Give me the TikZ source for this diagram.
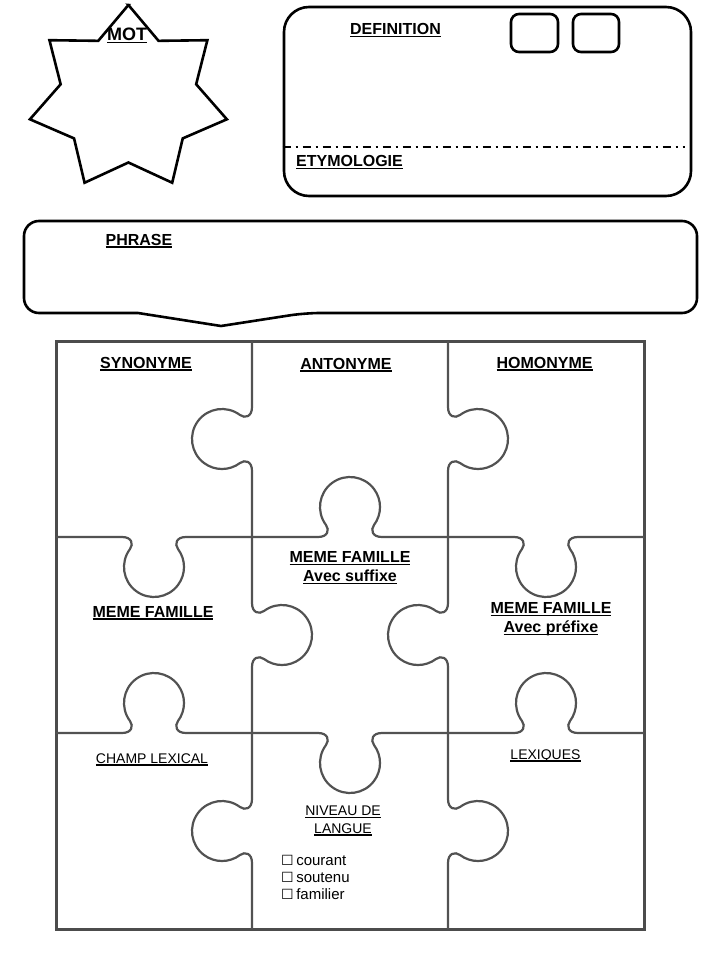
\documentclass[tikz,border=0pt]{standalone}
\usepackage{fontspec}
\setmainfont{Liberation Sans}
\newfontfamily\tickfont{DejaVu Sans}
\usetikzlibrary{positioning}

% underlined label, rule a little below the baseline
\newcommand\ulabel[1]{\setbox0\hbox{#1}\rlap{\rule[-2.5pt]{\wd0}{1.4pt}}\box0}
\newcommand\tickbox{{\tickfont\fontsize{14}{14}\selectfont ☐}}
% one puzzle edge of length #1 with a tab in its middle (local coordinates)
\newcommand\tabpath[1]{(0,0) -- ({#1/2-32},0)
  .. controls ({#1/2-22},0) and ({#1/2-20.4},7.2) .. ({#1/2-24},12)
  arc[start angle=216.87, end angle=-36.87, radius=30]
  .. controls ({#1/2+20.4},7.2) and ({#1/2+22},0) .. ({#1/2+32},0) -- (#1,0)}

\tikzset{
  tab up/.style={x={(1pt,0pt)}, y={(0pt,1pt)}},
  tab down/.style={x={(1pt,0pt)}, y={(0pt,-1pt)}},
  tab left/.style={x={(0pt,-1pt)}, y={(-1pt,0pt)}},
  tab right/.style={x={(0pt,-1pt)}, y={(1pt,0pt)}}
}

\begin{document}
\begin{tikzpicture}[
  x=1pt, y=-1pt,
  outline/.style={draw, line width=2.6pt},
  panel/.style={draw, line width=2.6pt, inner sep=0pt},
  cutline/.style={draw=black!68, line width=2.2pt},
  frame/.style={draw=black!70, line width=3pt},
  title/.style={font=\bfseries\fontsize{16}{19}\selectfont, inner sep=0pt, align=center},
  plain/.style={font=\fontsize{14}{17.5}\selectfont, inner sep=0pt, align=center},
  check/.style={font=\fontsize{15}{17}\selectfont, inner sep=0pt, anchor=base west}
]
\useasboundingbox (0,0) rectangle (720,960);

% word star
\begin{scope}[shift={(128.4,98.5)}]
\draw[outline] (-90:101 and 93.5)
  \foreach \k in {0,...,6} { -- ({-64.29+51.43*\k}:69.5 and 64) -- ({-38.57+51.43*\k}:101 and 93.5) } -- cycle;
\end{scope}
\node[title, font=\bfseries\fontsize{18}{20}\selectfont, anchor=base] (mot) at (127,41) {\ulabel{MOT}};

% definition card
\node[panel, rounded corners=25pt, minimum width=407pt, minimum height=189pt] (def-card) at (487.5,101.5) {};
\node[panel, rounded corners=8pt, minimum width=47pt, minimum height=38pt] (box-a) at (534.5,33) {};
\node[panel, rounded corners=8pt, minimum width=46pt, minimum height=38pt] (box-b) at (596,33) {};
\coordinate (dd-end) at (685,147);
\draw[line width=2pt, dash pattern=on 8pt off 5pt on 2pt off 5pt] (def-card.west |- dd-end) -- (dd-end);
\node[title, anchor=base] (definition) at (395.5,35) {\ulabel{DEFINITION}};
\node[title, anchor=base] (etymology) at (349.5,167) {\ulabel{ETYMOLOGIE}};

% sentence bubble
\coordinate (tip) at (221,326);
\draw[outline] (tip) -- (138,313) [rounded corners=15pt] -- (24,313) -- (24,221) -- (697,221) -- (697,313) -- (305,313) [sharp corners] -- cycle;
\node[title, anchor=base] (phrase) at (139,245) {\ulabel{PHRASE}};

% puzzle
\draw[frame] (56,341) rectangle (644,929);
\foreach \px/\py in {252/341, 252/733, 448/537}
  \draw[cutline, shift={(\px,\py)}, tab left] \tabpath{196};
\foreach \px/\py in {252/537, 448/341, 448/733}
  \draw[cutline, shift={(\px,\py)}, tab right] \tabpath{196};
\foreach \px/\py in {252/537, 56/733, 448/733}
  \draw[cutline, shift={(\px,\py)}, tab up] \tabpath{196};
\foreach \px/\py in {56/537, 448/537, 252/733}
  \draw[cutline, shift={(\px,\py)}, tab down] \tabpath{196};

\node[title, anchor=base] (synonym) at (146,368) {\ulabel{SYNONYME}};
\node[title, anchor=base] (antonym) at (346,369) {\ulabel{ANTONYME}};
\node[title, anchor=base] (homonym) at (544.5,368) {\ulabel{HOMONYME}};
\node[title, anchor=base] (family) at (153,617) {\ulabel{MEME FAMILLE}};
\node[title, anchor=north] (suffix) at (350,551.5) {\ulabel{MEME FAMILLE}\\\ulabel{Avec suffixe}};
\node[title, anchor=north] (prefix) at (551,602.5) {\ulabel{MEME FAMILLE}\\\ulabel{Avec préfixe}};
\node[plain, anchor=base] (field) at (152,763) {\ulabel{CHAMP LEXICAL}};
\node[plain, anchor=base] (lexicon) at (545.5,759) {\ulabel{LEXIQUES}};
\node[plain, anchor=north] (register) at (343,806) {\ulabel{NIVEAU DE}\\\ulabel{LANGUE}};
\foreach \word [count=\i] in {courant, soutenu, familier}
  \node[check] (level-\i) at (281,848+17*\i) {\tickbox\,\word};
\end{tikzpicture}
\end{document}
